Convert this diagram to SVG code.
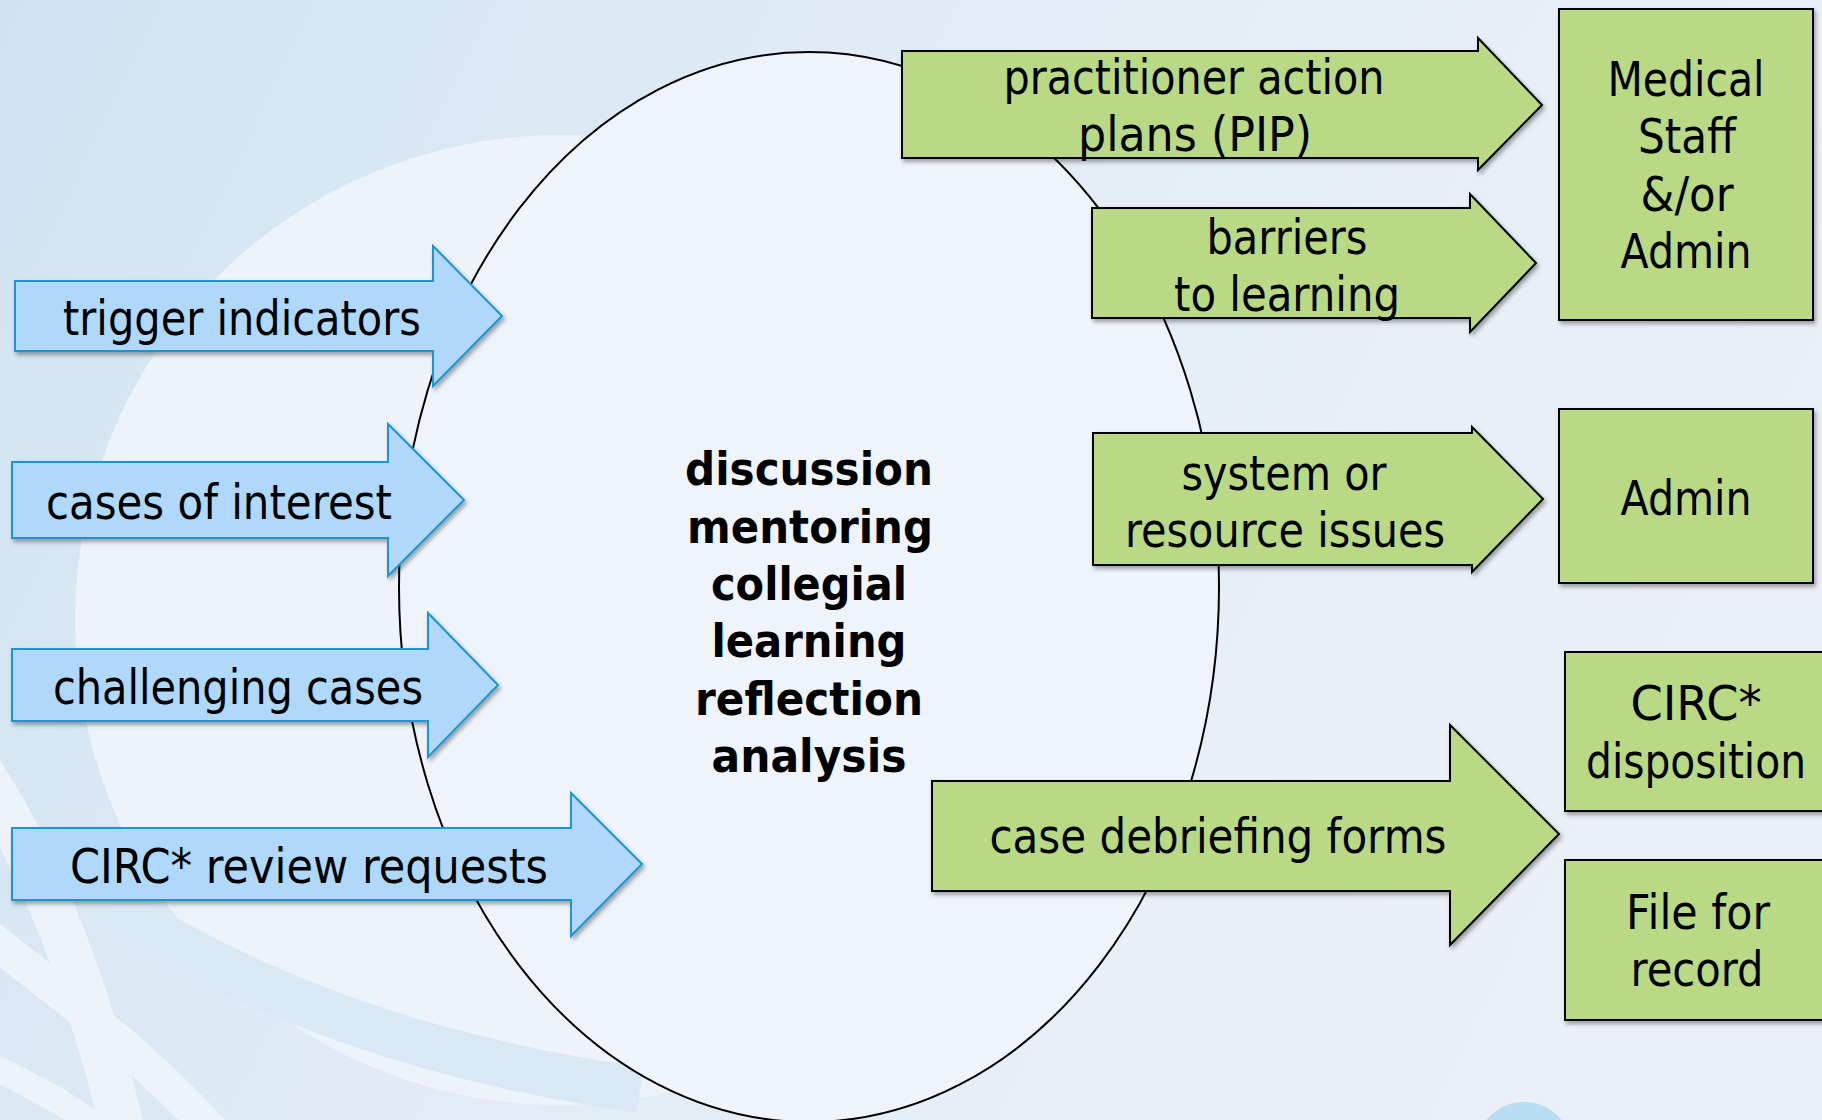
<svg xmlns="http://www.w3.org/2000/svg" width="1822" height="1120" viewBox="0 0 1822 1120">
  <defs>
    <linearGradient id="bg" x1="0" y1="0" x2="1" y2="0.3">
      <stop offset="0" stop-color="#d0e3f2"/>
      <stop offset="0.5" stop-color="#e2ecf6"/>
      <stop offset="1" stop-color="#ebf0f7"/>
    </linearGradient>
    <filter id="shadow" x="-10%" y="-10%" width="130%" height="130%">
      <feDropShadow dx="2" dy="3" stdDeviation="2" flood-color="#000" flood-opacity="0.35"/>
    </filter>
    <style>
      .in { fill: #b0d8fb; stroke: #1b95d3; stroke-width: 2; filter: url(#shadow); }
      .out { fill: #b9d984; stroke: #000; stroke-width: 2; filter: url(#shadow); }
      .lbl { font-family: "DejaVu Sans", "Liberation Sans", sans-serif; font-size: 48px; fill: #000; text-anchor: middle; }
      .core { font-family: "DejaVu Sans", "Liberation Sans", sans-serif; font-size: 47px; font-weight: bold; fill: #000; text-anchor: middle; }
      .swoosh { fill: none; stroke: #edf3f9; stroke-linecap: butt; }
    </style>
  </defs>

  <!-- backdrop -->
  <rect x="0" y="0" width="1822" height="1120" fill="url(#bg)"/>
  <circle cx="560" cy="620" r="485" fill="#eef3fa"/>
  <path d="M110,905 C260,1000 430,1060 640,1090" fill="none" stroke="#d8e8f4" stroke-width="46"/>
  <path class="swoosh" d="M-20,770 C40,860 90,990 125,1140" stroke-width="44"/>
  <path class="swoosh" d="M-20,930 C70,1000 160,1070 220,1140" stroke-width="34"/>
  <path class="swoosh" d="M-20,1060 C40,1090 80,1110 110,1140" stroke-width="26"/>
  <circle cx="1524" cy="1150" r="48" fill="#b8dcf2"/>

  <!-- central ellipse -->
  <g id="core">
    <ellipse cx="809" cy="587" rx="410" ry="535" fill="#eff4fb" stroke="#000" stroke-width="2"/>
    <text class="core" x="809" y="485" textLength="248" lengthAdjust="spacingAndGlyphs">discussion</text>
    <text class="core" x="810" y="543" textLength="246" lengthAdjust="spacingAndGlyphs">mentoring</text>
    <text class="core" x="809" y="600" textLength="196" lengthAdjust="spacingAndGlyphs">collegial</text>
    <text class="core" x="809" y="657" textLength="195" lengthAdjust="spacingAndGlyphs">learning</text>
    <text class="core" x="809" y="715" textLength="228" lengthAdjust="spacingAndGlyphs">reflection</text>
    <text class="core" x="809" y="772" textLength="195" lengthAdjust="spacingAndGlyphs">analysis</text>
  </g>

  <!-- connectors: incoming and outgoing block arrows -->
  <g id="connectors">
    <g id="in-trigger">
      <path class="in" d="M15,281 H433 V246 L502,316 L433,386 V351 H15 Z"/>
      <text class="lbl" x="242" y="335" textLength="358" lengthAdjust="spacingAndGlyphs">trigger indicators</text>
    </g>
    <g id="in-cases">
      <path class="in" d="M12,462 H388 V424 L464,500 L388,576 V538 H12 Z"/>
      <text class="lbl" x="219" y="519" textLength="346" lengthAdjust="spacingAndGlyphs">cases of interest</text>
    </g>
    <g id="in-challenging">
      <path class="in" d="M12,649 H428 V613 L498,685 L428,757 V721 H12 Z"/>
      <text class="lbl" x="238" y="704" textLength="370" lengthAdjust="spacingAndGlyphs">challenging cases</text>
    </g>
    <g id="in-circ">
      <path class="in" d="M12,828 H571 V793 L642,864 L571,936 V900 H12 Z"/>
      <text class="lbl" x="309" y="883" textLength="478" lengthAdjust="spacingAndGlyphs">CIRC* review requests</text>
    </g>

    <g id="out-pip">
      <path class="out" d="M902,51 H1478 V38 L1542,105 L1478,170 V158 H902 Z"/>
      <text class="lbl" x="1194" y="94" textLength="381" lengthAdjust="spacingAndGlyphs">practitioner action</text>
      <text class="lbl" x="1195" y="151" textLength="234" lengthAdjust="spacingAndGlyphs">plans (PIP)</text>
    </g>
    <g id="out-barriers">
      <path class="out" d="M1092,208 H1470 V194 L1536,263 L1470,332 V318 H1092 Z"/>
      <text class="lbl" x="1287" y="254" textLength="161" lengthAdjust="spacingAndGlyphs">barriers</text>
      <text class="lbl" x="1287" y="311" textLength="226" lengthAdjust="spacingAndGlyphs">to learning</text>
    </g>
    <g id="out-system">
      <path class="out" d="M1093,433 H1472 V427 L1543,499 L1472,572 V565 H1093 Z"/>
      <text class="lbl" x="1284" y="490" textLength="205" lengthAdjust="spacingAndGlyphs">system or</text>
      <text class="lbl" x="1285" y="547" textLength="320" lengthAdjust="spacingAndGlyphs">resource issues</text>
    </g>
    <g id="out-debrief">
      <path class="out" d="M932,781 H1450 V725 L1559,834 L1450,945 V891 H932 Z"/>
      <text class="lbl" x="1218" y="853" textLength="457" lengthAdjust="spacingAndGlyphs">case debriefing forms</text>
    </g>
  </g>

  <!-- destination boxes -->
  <g id="medstaff">
    <rect class="out" x="1559" y="9" width="254" height="311"/>
    <text class="lbl" x="1686" y="96" textLength="157" lengthAdjust="spacingAndGlyphs">Medical</text>
    <text class="lbl" x="1687" y="153" textLength="98" lengthAdjust="spacingAndGlyphs">Staff</text>
    <text class="lbl" x="1687" y="211" textLength="93" lengthAdjust="spacingAndGlyphs">&amp;/or</text>
    <text class="lbl" x="1686" y="268" textLength="131" lengthAdjust="spacingAndGlyphs">Admin</text>
  </g>
  <g id="admin">
    <rect class="out" x="1559" y="409" width="254" height="174"/>
    <text class="lbl" x="1686" y="515" textLength="131" lengthAdjust="spacingAndGlyphs">Admin</text>
  </g>
  <g id="disposition">
    <rect class="out" x="1565" y="652" width="259" height="159"/>
    <text class="lbl" x="1696" y="720" textLength="131" lengthAdjust="spacingAndGlyphs">CIRC*</text>
    <text class="lbl" x="1696" y="778" textLength="220" lengthAdjust="spacingAndGlyphs">disposition</text>
  </g>
  <g id="record">
    <rect class="out" x="1565" y="860" width="259" height="160"/>
    <text class="lbl" x="1698" y="929" textLength="144" lengthAdjust="spacingAndGlyphs">File for</text>
    <text class="lbl" x="1697" y="986" textLength="133" lengthAdjust="spacingAndGlyphs">record</text>
  </g>
</svg>
